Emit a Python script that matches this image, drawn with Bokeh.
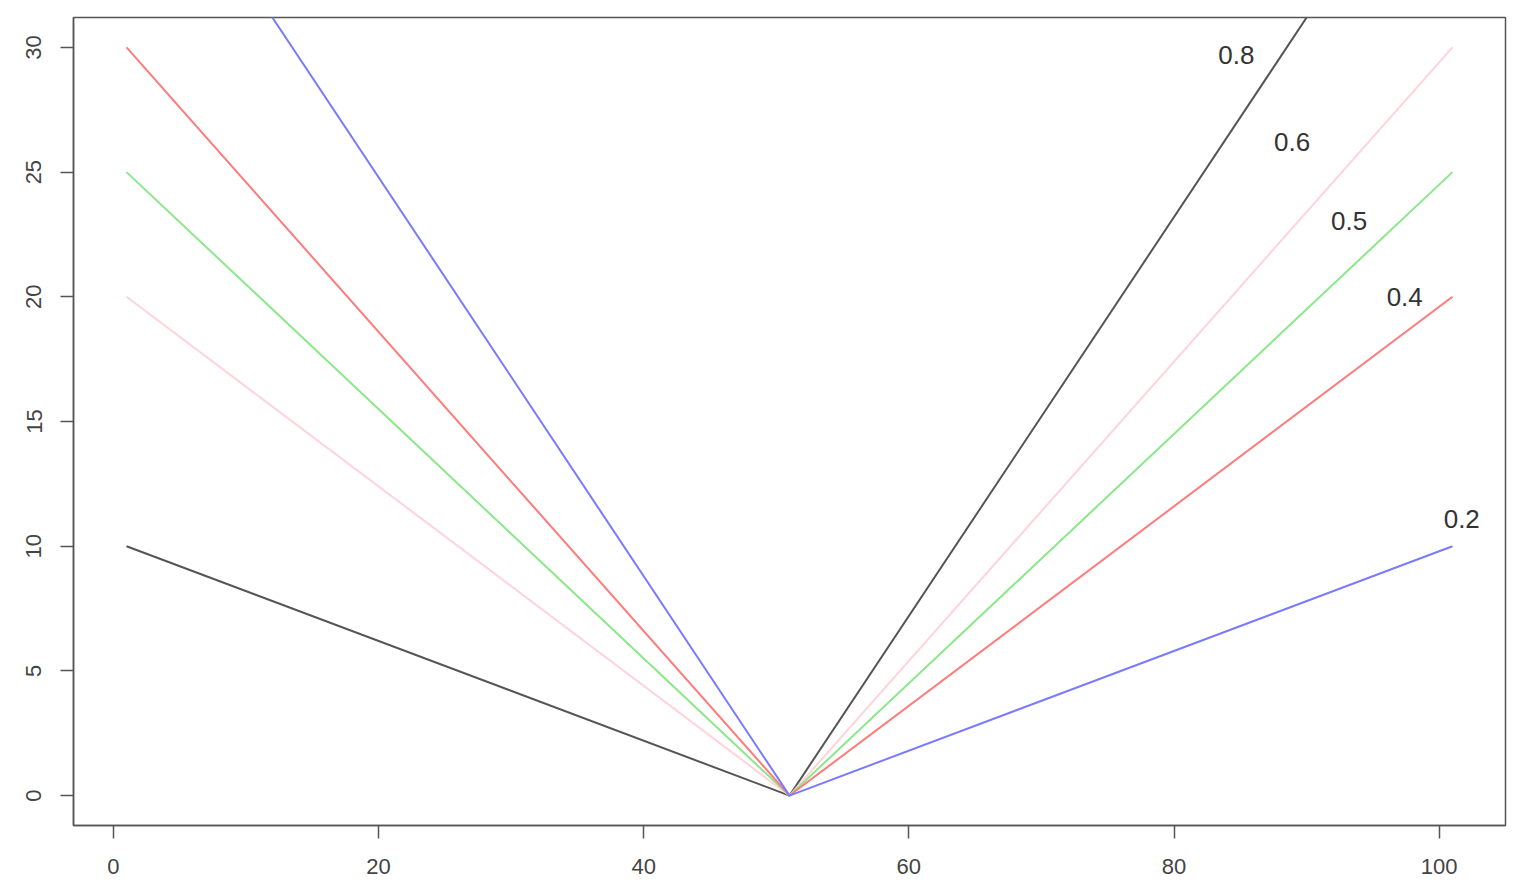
from bokeh.plotting import figure
from bokeh.models import Range1d, FixedTicker, ColumnDataSource
from bokeh.embed import file_html
from bokeh.resources import INLINE
from bokeh.core.properties import value

# data
x_pts = [1, 51, 101]
loss_02 = [40, 0, 10]
loss_04 = [30, 0, 20]
loss_05 = [25, 0, 25]
loss_06 = [20, 0, 30]
loss_08 = [10, 0, 40]

label_text = ["0.8", "0.6", "0.5", "0.4", "0.2"]
label_x = [84.7, 88.9, 93.2, 97.4, 101.7]
label_y = [29.7, 26.2, 23.05, 20.0, 11.1]

x_ticks = [0, 20, 40, 60, 80, 100]
y_ticks = [0, 5, 10, 15, 20, 25, 30]

p = figure(width=1528, height=892, output_backend="svg", toolbar_location=None,
           x_range=Range1d(-3, 105), y_range=Range1d(-1.2, 31.2),
           min_border_left=73, min_border_right=23, min_border_top=17, min_border_bottom=67)

series = [
    (loss_08, "#555555"),
    (loss_06, "#ffd3da"),
    (loss_05, "#8ae88a"),
    (loss_04, "#ff7a7a"),
    (loss_02, "#7a7aff"),
]
for ys, c in series:
    p.line(x_pts, ys, line_color=c, line_width=2)

src = ColumnDataSource(dict(x=label_x, y=label_y, t=label_text))
p.text("x", "y", text="t", source=src, text_align="center", text_baseline="middle",
       text_font=value("Liberation Sans"), text_font_size="26px", text_color="#333333")

p.grid.visible = False
p.outline_line_color = "#555555"
p.outline_line_width = 1.5

for ax in (p.xaxis[0], p.yaxis[0]):
    ax.axis_line_color = "#555555"
    ax.axis_line_width = 1.5
    ax.major_tick_line_color = "#555555"
    ax.major_tick_line_width = 1.5
    ax.major_tick_out = 13
    ax.major_tick_in = 0
    ax.minor_tick_line_color = None
    ax.major_label_text_font = "Liberation Sans"
    ax.major_label_text_font_size = "22px"
    ax.major_label_text_color = "#444444"

p.xaxis[0].major_label_standoff = 20
p.yaxis[0].major_label_standoff = 19
p.xaxis[0].ticker = FixedTicker(ticks=x_ticks)
p.yaxis[0].ticker = FixedTicker(ticks=y_ticks)
p.yaxis[0].major_label_orientation = "vertical"

open("out.html", "w").write(file_html(p, INLINE))
